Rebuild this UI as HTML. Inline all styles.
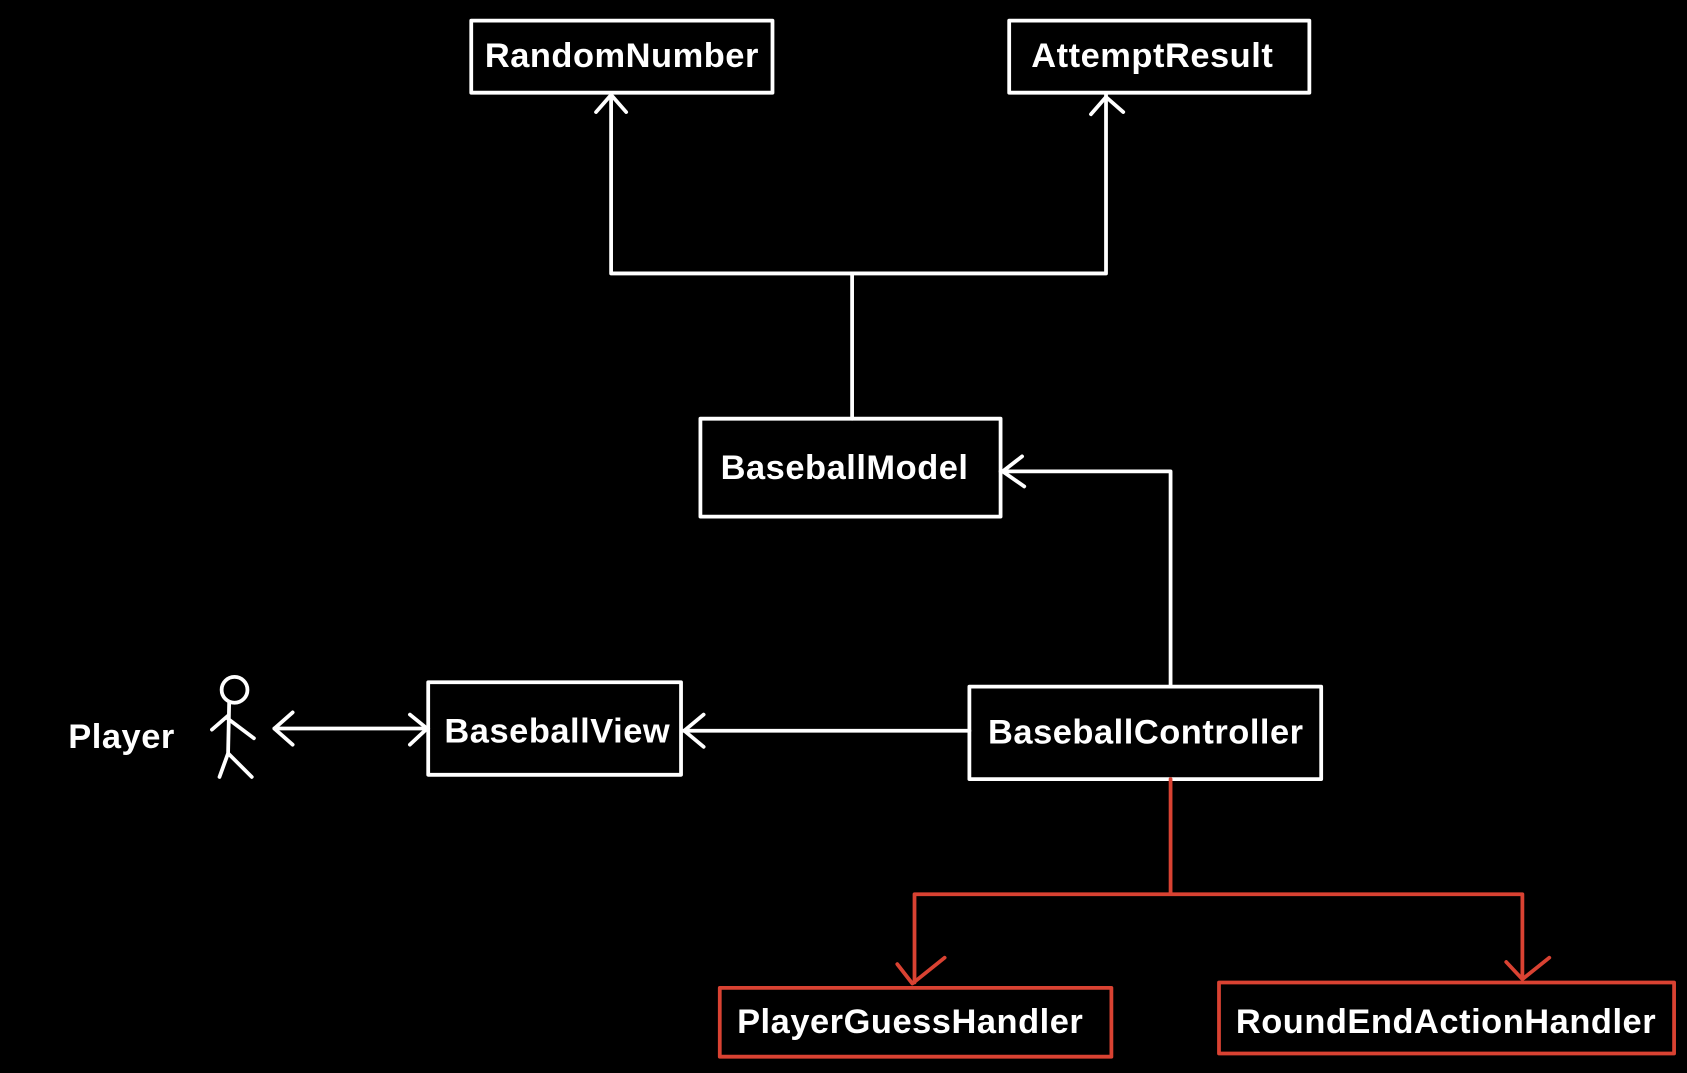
<!DOCTYPE html>
<html><head><style>html,body{margin:0;padding:0;background:#000;}svg{display:block}</style></head>
<body>
<svg width="1687" height="1073" viewBox="0 0 1568 997" xmlns="http://www.w3.org/2000/svg">
<rect width="1568" height="997" fill="#000"/>
<g fill="none" stroke="#fff" stroke-width="3.5" stroke-linecap="round" stroke-linejoin="round">
<rect x="438" y="19" width="280" height="67"/>
<rect x="938" y="19" width="279" height="67"/>
<rect x="651" y="389" width="279" height="91"/>
<rect x="398" y="634" width="235" height="86"/>
<rect x="901" y="638" width="327" height="86"/>
<path d="M792 389 V254 M568 254 H1028 M568 254 V88 M1028 254 V88"/>
<path d="M554 104 L568 88 L582 104"/>
<path d="M1014 106 L1028 90 L1044 104"/>
<path d="M1088 638 V438 H930"/>
<path d="M950 424 L932 438 L952 452"/>
<path d="M901 679 H635"/>
<path d="M654 664 L636 679 L654 694"/>
<path d="M255 677 H398"/>
<path d="M272 662 L255 677 L272 692"/>
<path d="M381 664 L397 677 L381 692"/>
<circle cx="218" cy="641" r="12"/>
<path d="M213 653 L212 700 M212 665 L197 678 M212 668 L236 686 M212 700 L204 722 M212 700 L234 722"/>
</g>
<g fill="none" stroke="#d94232" stroke-width="3.5" stroke-linecap="round" stroke-linejoin="round">
<rect x="669" y="918" width="364" height="64"/>
<rect x="1133" y="913" width="423" height="66"/>
<path d="M1088 724 V831 M850 831 H1415 M850 831 V913 M1415 831 V909"/>
<path d="M834 896 L848 914 L878 890"/>
<path d="M1400 894 L1415 910 L1440 890"/>
</g>
<g fill="#fff" font-family="'Comic Sans MS','Liberation Sans',sans-serif" font-weight="bold" font-size="32" letter-spacing="0.5" text-anchor="middle">
<text x="578" y="62">RandomNumber</text>
<text x="1071" y="62">AttemptResult</text>
<text x="785" y="445">BaseballModel</text>
<text x="518" y="690">BaseballView</text>
<text x="1065" y="691">BaseballController</text>
<text x="846" y="960">PlayerGuessHandler</text>
<text x="1344" y="960">RoundEndActionHandler</text>
<text x="113" y="695">Player</text>
</g>
</svg>
</body></html>
